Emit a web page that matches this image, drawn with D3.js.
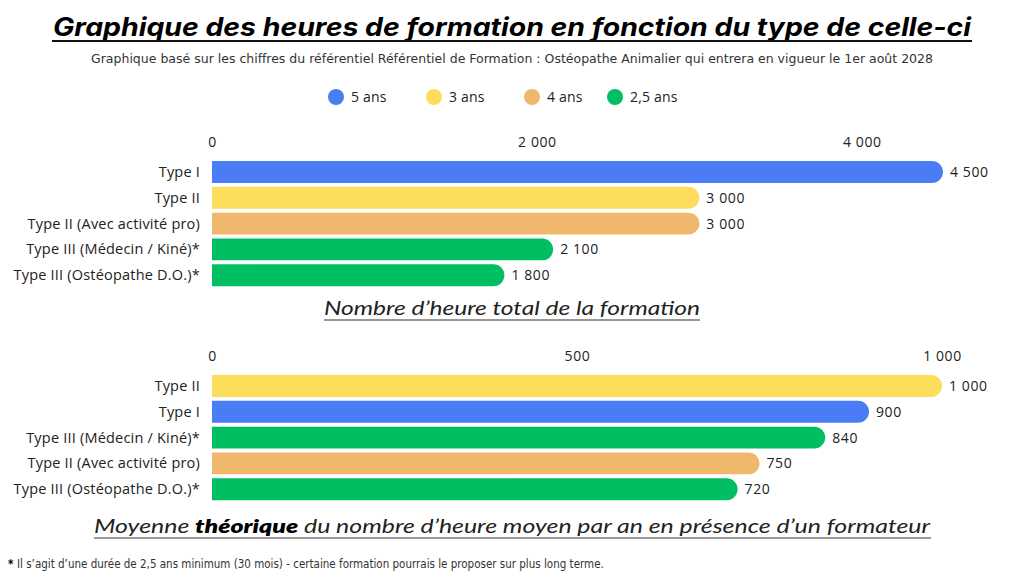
<!doctype html>
<html>
  <head>
    <meta charset="utf-8">
    <title>Heures de formation</title>
    <script src="https://cdnjs.cloudflare.com/ajax/libs/d3/7.8.5/d3.min.js"></script>
    <style>
      body { margin: 0; background: #fff; }
      .lab { font-family: "Open Sans", "Noto Sans", sans-serif; font-size: 14.5px; fill: #222; letter-spacing: 0.2px; }
      .tick text { font-family: "Open Sans", "Noto Sans", sans-serif; font-size: 14px; fill: #222; letter-spacing: 0.6px; }
    </style>
  </head>
  <body>
    <div id="chart"></div>
    <script>
      // data
      const legendLabels = ['5 ans', '3 ans', '4 ans', '2,5 ans'];
      const legendColors = ['#4a7cf6', '#fddd5c', '#f0b86c', '#00bf63'];

      const totalCats = ['Type I', 'Type II', 'Type II (Avec activité pro)', 'Type III (Médecin / Kiné)*', 'Type III (Ostéopathe D.O.)*'];
      const totalValues = [4500, 3000, 3000, 2100, 1800];
      const totalDuree = ['5 ans', '3 ans', '4 ans', '2,5 ans', '2,5 ans'];
      const totalTicks = [0, 2000, 4000];

      const yearCats = ['Type II', 'Type I', 'Type III (Médecin / Kiné)*', 'Type II (Avec activité pro)', 'Type III (Ostéopathe D.O.)*'];
      const yearValues = [1000, 900, 840, 750, 720];
      const yearDuree = ['3 ans', '5 ans', '2,5 ans', '4 ans', '2,5 ans'];
      const yearTicks = [0, 500, 1000];

      const fr = d3.formatLocale({ decimal: ',', thousands: ' ', grouping: [3], currency: ['', '€'] });
      const fmt = fr.format(',d');

      const color = d3.scaleOrdinal().domain(legendLabels).range(legendColors);

      const svg = d3.select('#chart').append('svg')
        .attr('width', 1024)
        .attr('height', 576);

      // title
      svg.append('text')
        .attr('x', 512).attr('y', 36)
        .attr('text-anchor', 'middle')
        .style('font-family', 'Inter, "Open Sans", sans-serif')
        .style('font-size', '25px')
        .style('font-weight', 700)
        .style('font-style', 'italic')
        .attr('textLength', 918)
        .attr('lengthAdjust', 'spacingAndGlyphs')
        .text('Graphique des heures de formation en fonction du type de celle-ci');
      svg.append('line')
        .attr('x1', 52).attr('x2', 972).attr('y1', 41).attr('y2', 41)
        .attr('stroke', '#111').attr('stroke-width', 2);

      svg.append('text')
        .attr('x', 512).attr('y', 63)
        .attr('text-anchor', 'middle')
        .style('font-family', '"Liberation Sans Narrow", "DejaVu Sans Condensed", sans-serif')
        .style('font-size', '13px')
        .style('fill', '#333')
        .attr('textLength', 842)
        .attr('lengthAdjust', 'spacingAndGlyphs')
        .text('Graphique basé sur les chiffres du référentiel Référentiel de Formation : Ostéopathe Animalier qui entrera en vigueur le 1er août 2028');

      // legend
      const legendX = [336, 434, 532, 615];
      const leg = svg.append('g').selectAll('g')
        .data(legendLabels)
        .join('g')
        .attr('transform', (d, i) => `translate(${legendX[i]},97)`);
      leg.append('circle').attr('r', 8).attr('fill', d => color(d));
      leg.append('text')
        .attr('class', 'lab')
        .attr('x', 15).attr('dy', '0.35em')
        .style('font-size', '14px')
        .text(d => d);

      function barPath(x0, x1, y, h) {
        const r = h / 2;
        return `M${x0},${y}H${x1 - r}A${r},${r} 0 0 1 ${x1 - r},${y + h}H${x0}Z`;
      }

      function drawChart(cats, values, duree, ticks, maxV, xMax, range, tickY) {
        const x = d3.scaleLinear().domain([0, maxV]).range([212, xMax]);
        const y = d3.scaleBand().domain(cats).range(range).paddingInner(0.15).paddingOuter(0.075);
        const g = svg.append('g');

        g.append('g')
          .attr('transform', `translate(0,${tickY})`)
          .call(d3.axisTop(x).tickValues(ticks).tickFormat(fmt).tickSize(0).tickPadding(0))
          .call(a => a.select('.domain').remove())
          .selectAll('text').attr('dy', '0.35em');

        g.selectAll('.cat')
          .data(cats)
          .join('text')
          .attr('class', 'lab')
          .attr('x', 200)
          .attr('y', d => y(d) + y.bandwidth() / 2)
          .attr('dy', '0.35em')
          .attr('text-anchor', 'end')
          .text(d => d);

        g.selectAll('.bar')
          .data(values)
          .join('path')
          .attr('d', (d, i) => barPath(x(0), x(d), y(cats[i]), y.bandwidth()))
          .attr('fill', (d, i) => color(duree[i]));

        g.selectAll('.val')
          .data(values)
          .join('text')
          .attr('class', 'lab')
          .style('font-size', '14px')
          .style('letter-spacing', '0.6px')
          .attr('x', d => x(d) + 7)
          .attr('y', (d, i) => y(cats[i]) + y.bandwidth() / 2)
          .attr('dy', '0.35em')
          .text(d => fmt(d));
      }

      drawChart(totalCats, totalValues, totalDuree, totalTicks, 4500, 943, [159.1, 288.1], 142);
      drawChart(yearCats, yearValues, yearDuree, yearTicks, 1000, 942, [373.1, 502.1], 356);

      // captions
      const capStyle = s => s
        .attr('text-anchor', 'middle')
        .style('font-family', 'Lato, "Noto Sans", sans-serif')
        .style('font-size', '19px')
        .style('font-style', 'italic')
        .style('font-weight', 400)
        .style('fill', '#222');

      svg.append('text').attr('x', 512).attr('y', 315).call(capStyle)
        .attr('textLength', 376).attr('lengthAdjust', 'spacingAndGlyphs')
        .text('Nombre d’heure total de la formation');
      svg.append('line').attr('x1', 324).attr('x2', 700).attr('y1', 320).attr('y2', 320)
        .attr('stroke', '#333').attr('stroke-width', 1.2);

      const cap2 = svg.append('text').attr('x', 512).attr('y', 533).call(capStyle)
        .attr('textLength', 836).attr('lengthAdjust', 'spacingAndGlyphs');
      cap2.append('tspan').text('Moyenne ');
      cap2.append('tspan').style('font-weight', 800).style('fill', '#000').text('théorique');
      cap2.append('tspan').text(' du nombre d’heure moyen par an en présence d’un formateur ');
      svg.append('line').attr('x1', 94).attr('x2', 931).attr('y1', 538).attr('y2', 538)
        .attr('stroke', '#333').attr('stroke-width', 1.2);

      // footnote
      const foot = svg.append('text').attr('x', 8).attr('y', 568)
        .style('font-family', '"Liberation Sans Narrow", "DejaVu Sans Condensed", sans-serif')
        .style('font-size', '11.5px')
        .style('fill', '#333');
      foot.append('tspan').style('font-weight', 700).style('fill', '#000').text('* ');
      foot.append('tspan').text('Il s’agit d’une durée de 2,5 ans minimum (30 mois) - certaine formation pourrais le proposer sur plus long terme.');
    </script>
  </body>
</html>
